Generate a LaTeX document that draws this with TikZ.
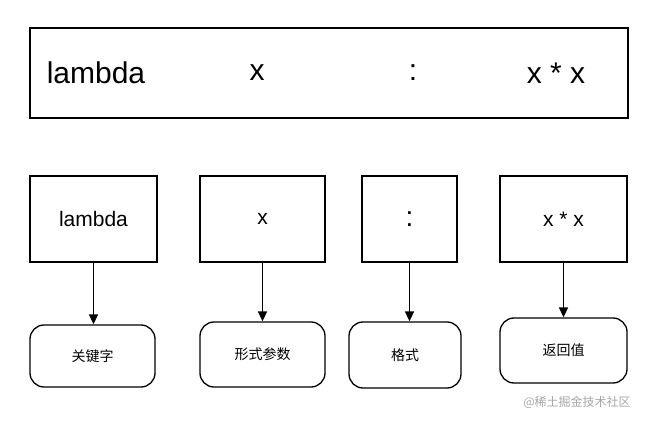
\documentclass[tikz,border=0pt]{standalone}
\usepackage{fontspec}
\setmainfont{Liberation Sans}
\newfontfamily\cjk{Noto Sans CJK SC}
\usetikzlibrary{arrows.meta}
\begin{document}
\begin{tikzpicture}[x=1pt,y=-1pt,
  box/.style={draw,line width=1.3pt,inner sep=0},
  term/.style={draw,line width=1.3pt,rounded corners=14pt,inner sep=0,font=\cjk\fontsize{14}{16}\selectfont},
  lbl/.style={font=\fontsize{21}{24}\selectfont},
  big/.style={font=\fontsize{30}{32}\selectfont},
  arr/.style={-{Triangle[length=10pt,width=9pt]},line width=1.6pt}]
\useasboundingbox (0,0) rectangle (651,422);
\node[box,minimum width=598,minimum height=90] (top) at (329,73) {};
\node[big] (t1) at (96,73) {lambda};
\node[big] (t2) at (257,73) {x};
\node[big] (t3) at (413,73) {:};
\node[big] (t4) at (556,73) {x * x};
\node[box,minimum width=127,minimum height=86,lbl] (b1) at (93.5,219) {lambda};
\node[box,minimum width=125,minimum height=86,lbl] (b2) at (262.5,219) {x};
\node[box,minimum width=95,minimum height=86,font=\fontsize{28}{30}\selectfont] (b3) at (409.5,219) {:};
\node[box,minimum width=127,minimum height=86,lbl] (b4) at (563.5,219) {x * x};
\node[term,minimum width=125,minimum height=62] (c1) at (92.5,356) {关键字};
\node[term,minimum width=125,minimum height=65] (c2) at (262.5,354.5) {形式参数};
\node[term,minimum width=112,minimum height=66] (c3) at (405,355) {格式};
\node[term,minimum width=127,minimum height=65] (c4) at (563.5,350.5) {返回值};
\draw[arr] (b1) -- (b1 |- c1.north);
\draw[arr] (b2) -- (b2 |- c2.north);
\draw[arr] (b3) -- (b3 |- c3.north);
\draw[arr] (b4) -- (b4 |- c4.north);
\node[text=black!35,font=\cjk\fontsize{12}{14}\selectfont] (wm) at (577,402) {@稀土掘金技术社区};
\end{tikzpicture}
\end{document}
